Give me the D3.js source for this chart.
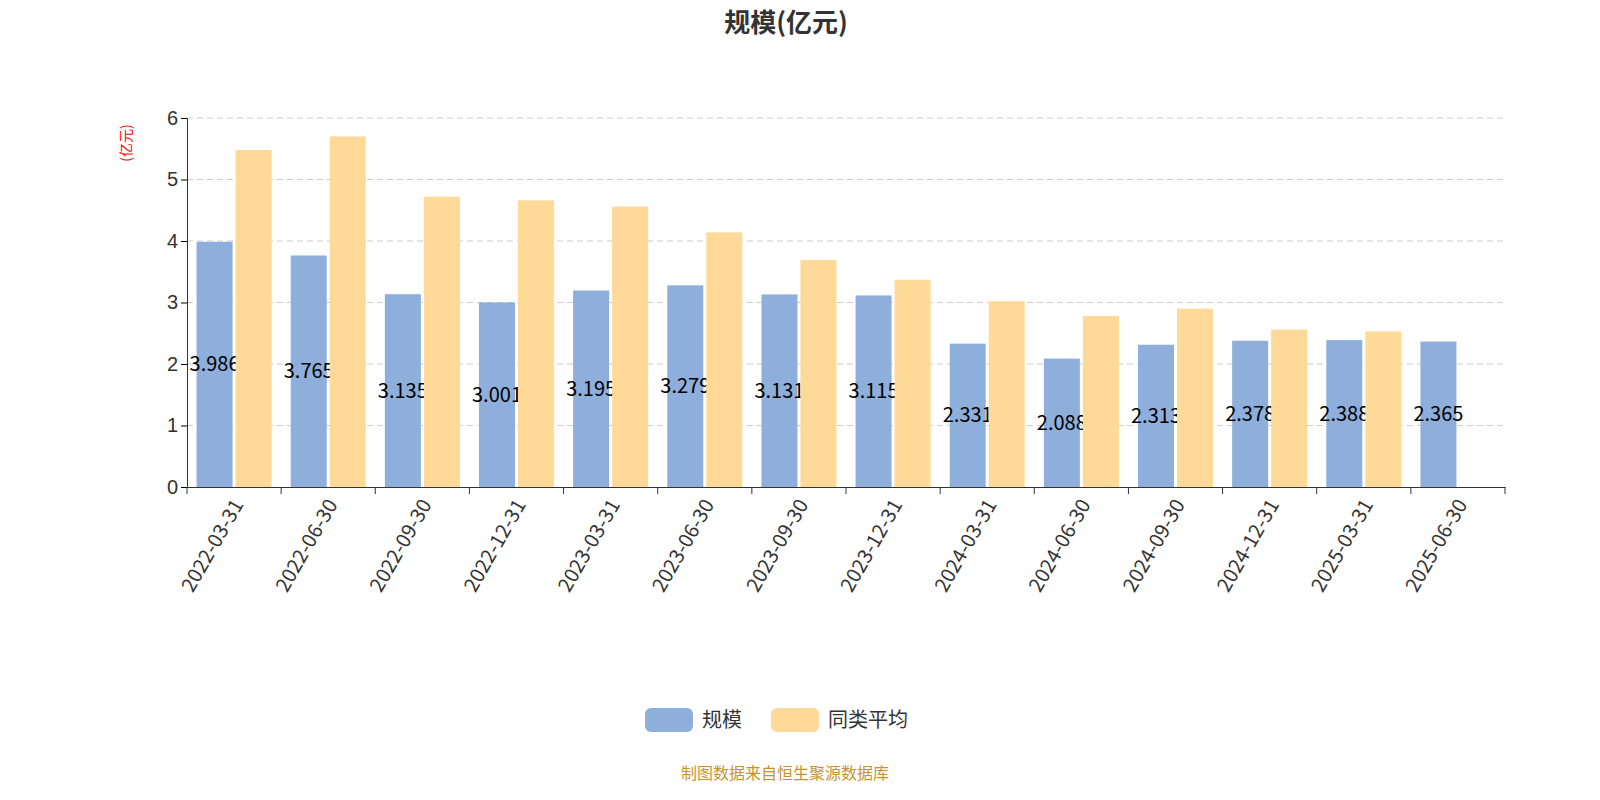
<!DOCTYPE html>
<html><head><meta charset="utf-8">
<script src="https://cdn.jsdelivr.net/npm/d3@7"></script>
<style>body{margin:0;background:#fff;overflow:hidden;font-family:"Noto Sans CJK SC","Noto Sans",sans-serif;} svg{display:block;}</style>
</head><body><svg id="c" width="1600" height="800"></svg>
<script>
var dates = ["2022-03-31","2022-06-30","2022-09-30","2022-12-31","2023-03-31","2023-06-30","2023-09-30","2023-12-31","2024-03-31","2024-06-30","2024-09-30","2024-12-31","2025-03-31","2025-06-30"];
var scale = [3.986,3.765,3.135,3.001,3.195,3.279,3.131,3.115,2.331,2.088,2.313,2.378,2.388,2.365];
var peerAvg = [5.48,5.70,4.72,4.66,4.56,4.14,3.69,3.37,3.02,2.78,2.90,2.56,2.53,null];
var yTicks = [0,1,2,3,4,5,6];

var svg = d3.select("#c");
var pLeft = 187, pRight = 1505, pTop = 118, pBottom = 487;
var x = d3.scaleBand().domain(dates).range([pLeft, pRight]);
var y = d3.scaleLinear().domain([0,6]).range([pBottom, pTop]);
var bw = 36, gap = 3;

svg.append("text").attr("x",786).attr("y",32).attr("text-anchor","middle")
  .attr("font-size",26).attr("font-weight","bold").attr("fill","#333").text("规模(亿元)");

svg.append("g").selectAll("line").data(yTicks.slice(1)).join("line")
  .attr("x1",pLeft).attr("x2",pRight).attr("y1",d=>y(d)).attr("y2",d=>y(d))
  .attr("stroke","#ccc").attr("stroke-dasharray","6,4");

svg.append("text").attr("transform","translate(131,143) rotate(-90)")
  .attr("text-anchor","middle").attr("font-size",14).attr("fill","red").text("(亿元)");

var ya = svg.append("g").attr("transform","translate("+pLeft+",0)")
  .call(d3.axisLeft(y).tickValues(yTicks).tickSize(6).tickFormat(d3.format("d")));
ya.selectAll("text").attr("font-size",20).attr("fill","#333");
ya.select(".domain").attr("stroke","#333");

var xa = svg.append("g").attr("transform","translate(0,"+pBottom+")")
  .call(d3.axisBottom(x).tickValues([]).tickSizeOuter(0));
xa.select(".domain").attr("stroke","#333");
svg.append("g").selectAll("line").data(d3.range(dates.length+1)).join("line")
  .attr("x1",i=>pLeft+i*x.step()).attr("x2",i=>pLeft+i*x.step())
  .attr("y1",pBottom).attr("y2",pBottom+7).attr("stroke","#333");
svg.append("g").selectAll("text").data(dates).join("text")
  .attr("transform",d=>"translate("+(x(d)+x.bandwidth()/2+4)+","+(pBottom+14)+") rotate(-60)")
  .attr("text-anchor","end").attr("dy","0.35em").attr("font-size",20).attr("fill","#333").text(d=>d);

function bx(d){ return x(d)+x.bandwidth()/2 - bw - gap/2; }
svg.append("g").selectAll("rect").data(dates).join("rect")
  .attr("x",bx).attr("width",bw).attr("y",(d,i)=>y(scale[i])).attr("height",(d,i)=>pBottom-y(scale[i]))
  .attr("fill","#8eaedb");
svg.append("g").selectAll("text").data(dates).join("text")
  .attr("x",d=>bx(d)+bw/2).attr("y",(d,i)=>(y(scale[i])+pBottom)/2).attr("dy","0.35em")
  .attr("text-anchor","middle").attr("font-size",20).attr("fill","#000").text((d,i)=>scale[i].toFixed(3));
svg.append("g").selectAll("rect").data(dates.filter((d,i)=>peerAvg[i]!=null)).join("rect")
  .attr("x",d=>bx(d)+bw+gap).attr("width",bw)
  .attr("y",d=>y(peerAvg[dates.indexOf(d)])).attr("height",d=>pBottom-y(peerAvg[dates.indexOf(d)]))
  .attr("fill","#fed998");

var legend = [["规模","#8eaedb",645],["同类平均","#fed998",771]];
legend.forEach(function(l){
  svg.append("rect").attr("x",l[2]).attr("y",708).attr("width",48).attr("height",24).attr("rx",6).attr("fill",l[1]);
  svg.append("text").attr("x",l[2]+57).attr("y",720).attr("dy","0.35em").attr("font-size",20).attr("fill","#333").text(l[0]);
});

svg.append("text").attr("x",785).attr("y",779).attr("text-anchor","middle").attr("font-size",16)
  .attr("fill","#c8922a").text("制图数据来自恒生聚源数据库");
</script></body></html>
